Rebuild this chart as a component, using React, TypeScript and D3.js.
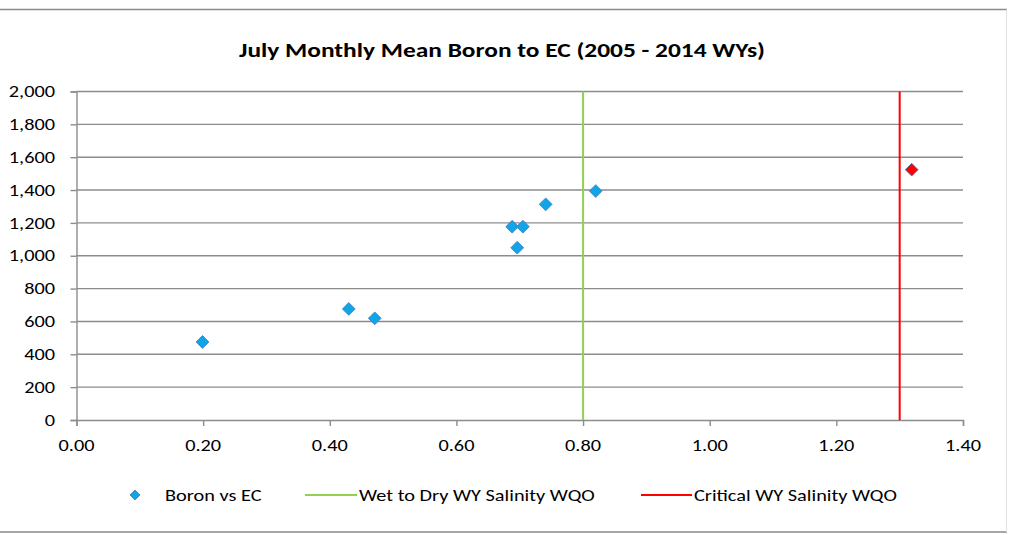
import * as d3 from 'd3';
import { useEffect, useRef } from 'react';

const boronEC = [0.199, 0.43, 0.471, 0.688, 0.696, 0.705, 0.741, 0.82];
const boronVal = [475, 676, 619, 1177, 1049, 1177, 1313, 1394];
const criticalPoint = { ec: 1.319, boron: 1524 };
const wetToDryWQO = 0.8;
const criticalWQO = 1.3;
const yTicks = [0, 200, 400, 600, 800, 1000, 1200, 1400, 1600, 1800, 2000];
const xTicks = [0, 0.2, 0.4, 0.6, 0.8, 1.0, 1.2, 1.4];

const FONT = 'Carlito, Lato, "Open Sans", sans-serif';
// the original image is stretched sideways, so text gets a horizontal scale
const STRETCH = 1.27;

export default function App() {
    const svgRef = useRef<SVGSVGElement>(null);

    useEffect(() => {
        if (!svgRef.current) return;
        const width = 1009;
        const height = 535;
        const margin = { top: 91.5, right: 46, bottom: 115, left: 76.5 };

        const svg = d3.select(svgRef.current).attr('width', width).attr('height', height);
        svg.selectAll('*').remove();

        svg.append('rect').attr('width', width).attr('height', height).attr('fill', '#fff');

        const label = (px: number, py: number, str: string, anchor: string, size = 16, weight = 'normal') =>
            svg.append('g')
                .attr('transform', `translate(${px},${py}) scale(${STRETCH},1)`)
                .append('text')
                .attr('text-anchor', anchor)
                .attr('dy', '0.35em')
                .attr('font-family', FONT)
                .attr('font-size', size)
                .attr('font-weight', weight)
                .attr('fill', '#000')
                .text(str);

        // chart frame
        svg.append('line').attr('x1', 0).attr('x2', 1007).attr('y1', 9.5).attr('y2', 9.5).attr('stroke', '#8a8a8a').attr('stroke-width', 1.5);
        svg.append('line').attr('x1', 0).attr('x2', 1007).attr('y1', 532).attr('y2', 532).attr('stroke', '#8a8a8a').attr('stroke-width', 1.5);
        svg.append('line').attr('x1', 1006.5).attr('x2', 1006.5).attr('y1', 9.5).attr('y2', 532).attr('stroke', '#e3e3e3');

        const x = d3.scaleLinear().domain([0, 1.4]).range([margin.left, width - margin.right]);
        const y = d3.scaleLinear().domain([0, 2000]).range([height - margin.bottom, margin.top]);

        label(502, 50, 'July Monthly Mean Boron to EC (2005 - 2014 WYs)', 'middle', 20, 'bold');

        // gridlines
        svg.append('g')
            .selectAll('line')
            .data(yTicks.filter((t) => t > 0))
            .join('line')
            .attr('x1', x(0))
            .attr('x2', x(1.4))
            .attr('y1', (d) => y(d))
            .attr('y2', (d) => y(d))
            .attr('stroke', '#8c8c8c')
            .attr('stroke-width', 1.4);

        const yAxis = svg
            .append('g')
            .attr('transform', `translate(${margin.left},0)`)
            .call(d3.axisLeft(y).tickValues(yTicks).tickSize(6).tickFormat(() => ''));
        yAxis.selectAll('line, path').attr('stroke', '#8c8c8c').attr('stroke-width', 1.4);
        const fmtY = d3.format(',');
        yTicks.forEach((t) => label(55, y(t), fmtY(t), 'end'));

        const xAxis = svg
            .append('g')
            .attr('transform', `translate(0,${y(0)})`)
            .call(d3.axisBottom(x).tickValues(xTicks).tickSize(6).tickSizeOuter(6).tickFormat(() => ''));
        xAxis.selectAll('line, path').attr('stroke', '#8c8c8c').attr('stroke-width', 1.4);
        const fmtX = d3.format('.2f');
        xTicks.forEach((t) => label(x(t), 445, fmtX(t), 'middle'));

        // WQO lines
        svg.append('line').attr('x1', x(wetToDryWQO)).attr('x2', x(wetToDryWQO)).attr('y1', y(2000)).attr('y2', y(0)).attr('stroke', '#92d050').attr('stroke-width', 2);
        svg.append('line').attr('x1', x(criticalWQO)).attr('x2', x(criticalWQO)).attr('y1', y(2000)).attr('y2', y(0)).attr('stroke', '#ff0000').attr('stroke-width', 2);

        const diamond = d3.symbol().type(d3.symbolSquare).size(82);
        const pts = boronEC.map((e, i) => ({ ec: e, b: boronVal[i] }));
        svg.append('g')
            .selectAll('path')
            .data(pts)
            .join('path')
            .attr('d', diamond)
            .attr('transform', (d) => `translate(${x(d.ec)},${y(d.b)}) rotate(45)`)
            .attr('fill', '#0ea5e9')
            .attr('stroke', '#4a7ebb')
            .attr('stroke-width', 0.8);
        svg.append('path')
            .attr('d', diamond)
            .attr('transform', `translate(${x(criticalPoint.ec)},${y(criticalPoint.boron)}) rotate(45)`)
            .attr('fill', '#ff0000')
            .attr('stroke', '#4a7ebb')
            .attr('stroke-width', 0.8);

        // legend
        const ly = 495;
        svg.append('path').attr('d', d3.symbol().type(d3.symbolSquare).size(50)).attr('transform', `translate(135,${ly}) rotate(45)`).attr('fill', '#0ea5e9').attr('stroke', '#4a7ebb').attr('stroke-width', 0.8);
        label(165, ly, 'Boron vs EC', 'start');
        svg.append('line').attr('x1', 305).attr('x2', 357).attr('y1', ly).attr('y2', ly).attr('stroke', '#92d050').attr('stroke-width', 2);
        label(359, ly, 'Wet to Dry WY Salinity WQO', 'start');
        svg.append('line').attr('x1', 641).attr('x2', 692).attr('y1', ly).attr('y2', ly).attr('stroke', '#ff0000').attr('stroke-width', 2);
        label(694, ly, 'Critical WY Salinity WQO', 'start');
    }, []);

    return <svg ref={svgRef} style={{ position: 'absolute', left: 0, top: 0 }} />;
}
